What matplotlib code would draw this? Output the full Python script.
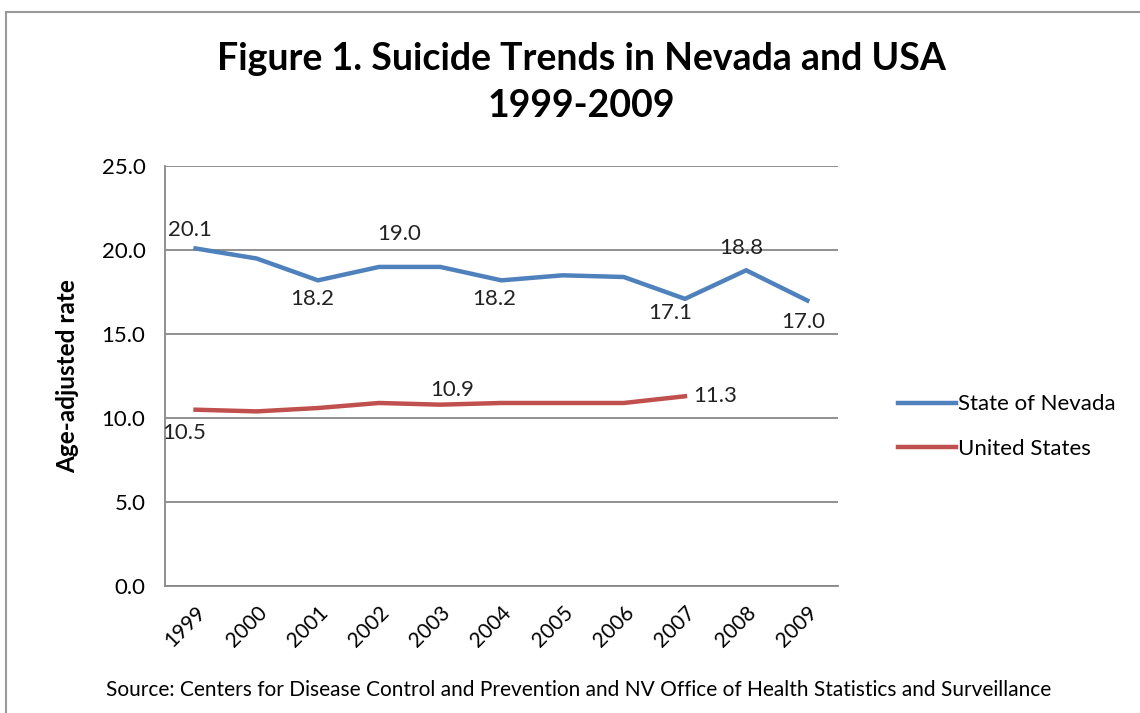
import matplotlib.pyplot as plt
from matplotlib.patches import Rectangle

years = ["1999", "2000", "2001", "2002", "2003", "2004", "2005", "2006", "2007", "2008", "2009"]
nevada = [20.1, 19.5, 18.2, 19.0, 19.0, 18.2, 18.5, 18.4, 17.1, 18.8, 17.0]
usa = [10.5, 10.4, 10.6, 10.9, 10.8, 10.9, 10.9, 10.9, 11.3]

# labelled points: (index, text, dx px, dy px)
nv_labels = [(0, "20.1", -6, 18), (2, "18.2", -6, -19), (3, "19.0", 20, 33),
             (5, "18.2", -7, -19), (8, "17.1", -15, -14), (9, "18.8", -5, 22),
             (10, "17.0", -4, -21)]
us_labels = [(0, "10.5", -11, -23), (4, "10.9", 12, 15), (8, "11.3", 30, 0)]

plt.rcParams['font.family'] = ['Lato', 'DejaVu Sans']

fig = plt.figure(figsize=(11.4, 7.13), dpi=100)
fig.patches.append(Rectangle((0.005, -0.1), 1.2, 1.083, transform=fig.transFigure,
                             fill=False, edgecolor="#999999", linewidth=1.5))
ax = fig.add_axes([0.1447, 0.178, 0.5903, 0.589])

x = list(range(len(years)))
ax.plot(x, nevada, color="#4F81BD", linewidth=3.2, label="State of Nevada")
ax.plot(x[:len(usa)], usa, color="#C0504D", linewidth=3.2, label="United States")

for i, t, dx, dy in nv_labels:
    ax.annotate(t, (x[i], nevada[i]), xytext=(dx, dy), textcoords="offset pixels",
                ha="center", va="center", fontsize=16, color="#222222")
for i, t, dx, dy in us_labels:
    ax.annotate(t, (x[i], usa[i]), xytext=(dx, dy), textcoords="offset pixels",
                ha="center", va="center", fontsize=16, color="#222222")

ax.set_xlim(-0.5, len(years) - 0.5)
ax.set_ylim(0, 25)
ax.set_yticks([0, 5, 10, 15, 20, 25])
ax.set_yticklabels([f"{v:.1f}" for v in [0, 5, 10, 15, 20, 25]], fontsize=16)
ax.set_xticks(x)
ax.set_xticklabels(years, rotation=45, ha="right", rotation_mode="anchor", fontsize=15)
ax.tick_params(axis="y", length=0, pad=14)
ax.tick_params(axis="x", length=0, pad=12)
ax.grid(axis="y", color="#888888", linewidth=1.3)
ax.set_axisbelow(True)
for s in ["top", "right"]:
    ax.spines[s].set_visible(False)
ax.spines["left"].set_color("#888888")
ax.spines["bottom"].set_color("#888888")
ax.spines["left"].set_linewidth(1.3)
ax.spines["bottom"].set_linewidth(1.3)

ax.set_ylabel("Age-adjusted rate", fontsize=17.5, fontweight="bold", labelpad=16)

fig.text(0.51, 0.917, "Figure 1. Suicide Trends in Nevada and USA", ha="center", va="center",
         fontsize=27, fontweight="bold")
fig.text(0.51, 0.852, "1999-2009", ha="center", va="center", fontsize=27, fontweight="bold")

fig.legend(loc="upper left", bbox_to_anchor=(0.77, 0.475), frameon=False, fontsize=16,
           handlelength=2.6, handletextpad=0.1, labelspacing=1.1)

fig.text(0.508, 0.032, "Source: Centers for Disease Control and Prevention and NV Office of Health Statistics and Surveillance",
         ha="center", va="center", fontsize=15)

fig.savefig("out.png", dpi=100)
